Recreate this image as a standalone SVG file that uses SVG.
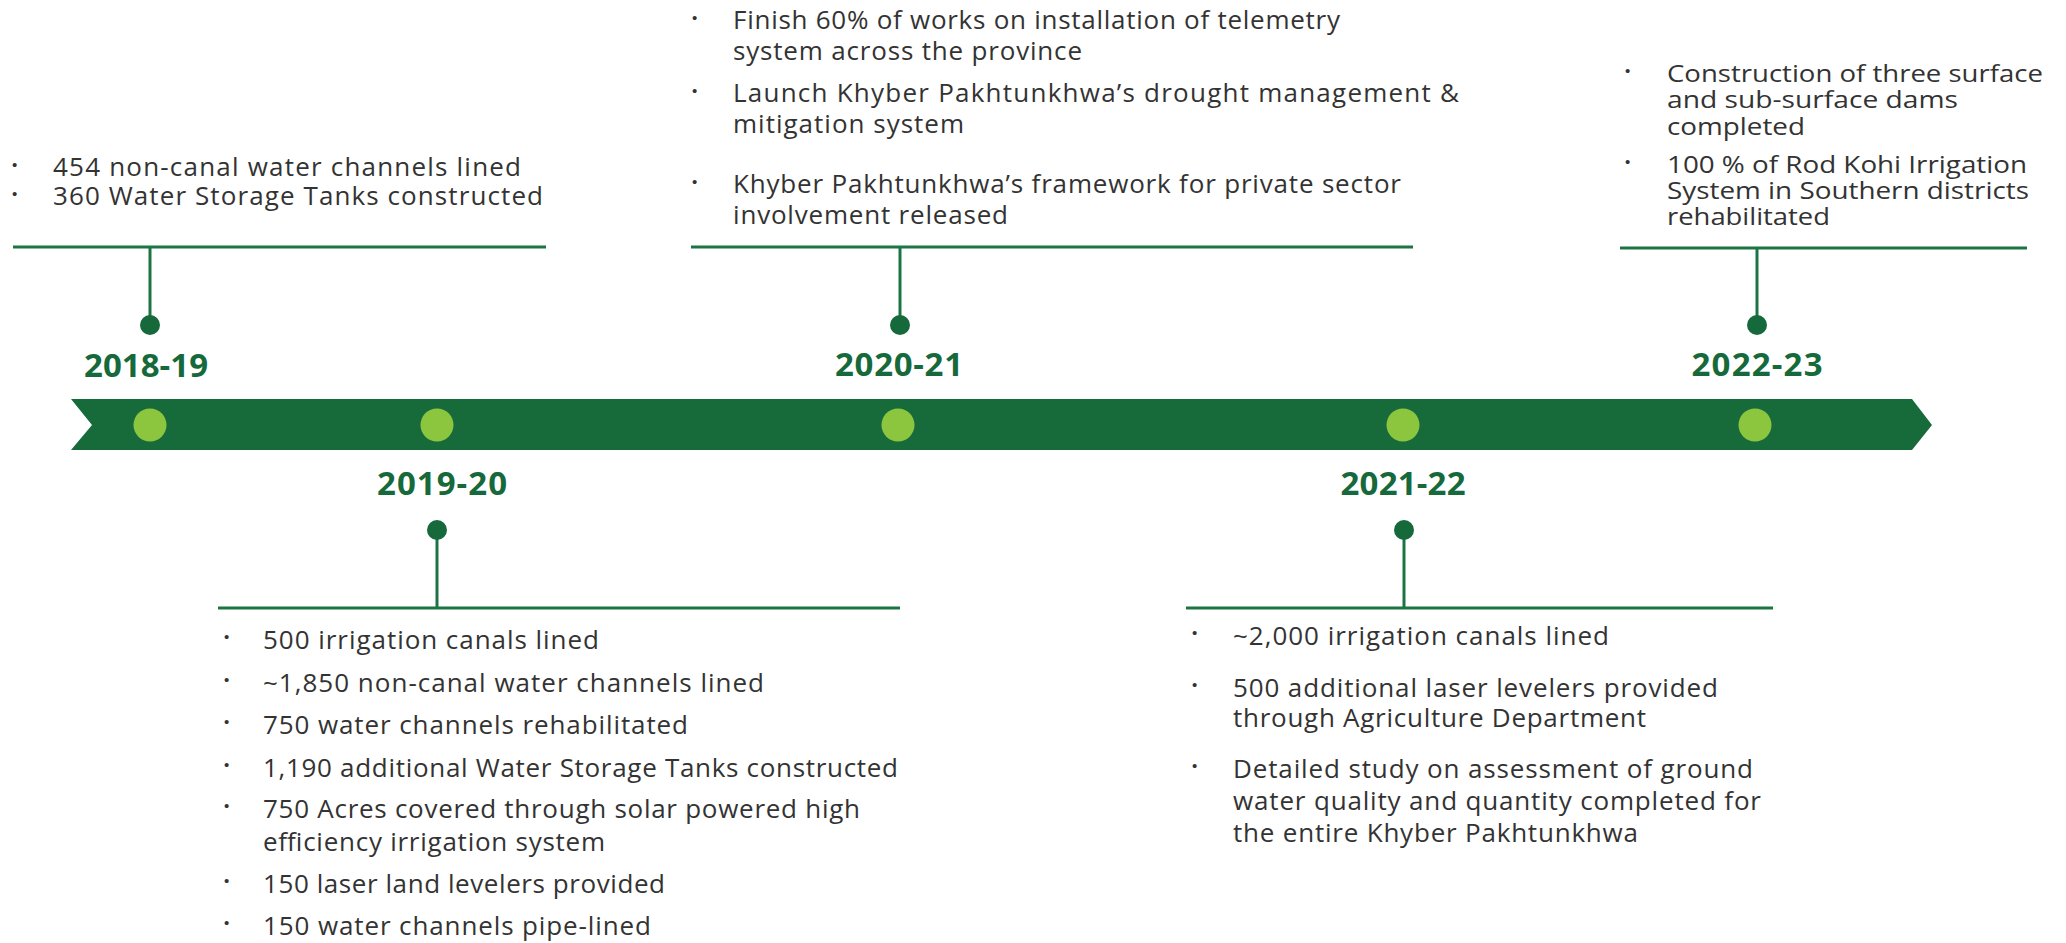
<svg xmlns="http://www.w3.org/2000/svg" width="2066" height="943" viewBox="0 0 2066 943">
<style>
.t{font-family:"Open Sans","Liberation Sans",sans-serif;font-size:26px;fill:#333333}
.s{font-size:23px}
.b{font-family:"Liberation Sans",sans-serif;font-size:15px;fill:#333333}
.y{font-family:"Open Sans","Liberation Sans",sans-serif;font-size:33px;font-weight:700;fill:#16693a;text-anchor:middle}
.ln{stroke:#1d7443;stroke-width:3;fill:none}
.pin{fill:#16693a}
.ld{fill:#8cc63e}
</style>
<rect width="2066" height="943" fill="#ffffff"/>
<g id="timeline">
<polygon points="71,399 1912,399 1932,425 1912,450 71,450 92,425" fill="#176b3b"/>
<circle class="ld" cx="150" cy="425" r="16.5"/>
<circle class="ld" cx="437" cy="425" r="16.5"/>
<circle class="ld" cx="898" cy="425" r="16.5"/>
<circle class="ld" cx="1403" cy="425" r="16.5"/>
<circle class="ld" cx="1755" cy="425" r="16.5"/>
</g>
<g id="connectors">
<line class="ln" x1="13" y1="247" x2="546" y2="247"/>
<line class="ln" x1="150" y1="247" x2="150" y2="325"/>
<line class="ln" x1="691" y1="247" x2="1413" y2="247"/>
<line class="ln" x1="900" y1="247" x2="900" y2="325"/>
<line class="ln" x1="1620" y1="248" x2="2027" y2="248"/>
<line class="ln" x1="1757" y1="248" x2="1757" y2="325"/>
<line class="ln" x1="218" y1="608" x2="900" y2="608"/>
<line class="ln" x1="437" y1="530" x2="437" y2="608"/>
<line class="ln" x1="1186" y1="608" x2="1773" y2="608"/>
<line class="ln" x1="1404" y1="530" x2="1404" y2="608"/>
</g>
<g id="y2018">
<circle class="pin" cx="150" cy="325" r="10"/>
<text class="y" x="146" y="377" textLength="124">2018-19</text>
<text class="b" x="12" y="170">•</text>
<text class="t" x="53" y="176" textLength="468">454 non-canal water channels lined</text>
<text class="b" x="12" y="199">•</text>
<text class="t" x="53" y="205" textLength="490">360 Water Storage Tanks constructed</text>
</g>
<g id="y2019">
<circle class="pin" cx="437" cy="530" r="10"/>
<text class="y" x="442" y="495" textLength="130">2019-20</text>
<text class="b" x="224" y="642">•</text>
<text class="t" x="263" y="649" textLength="336">500 irrigation canals lined</text>
<text class="b" x="224" y="685">•</text>
<text class="t" x="263" y="692" textLength="501">~1,850 non-canal water channels lined</text>
<text class="b" x="224" y="727">•</text>
<text class="t" x="263" y="734" textLength="425">750 water channels rehabilitated</text>
<text class="b" x="224" y="770">•</text>
<text class="t" x="263" y="777" textLength="635">1,190 additional Water Storage Tanks constructed</text>
<text class="b" x="224" y="811">•</text>
<text class="t" x="263" y="818" textLength="597">750 Acres covered through solar powered high</text>
<text class="t" x="263" y="851" textLength="342">efficiency irrigation system</text>
<text class="b" x="224" y="886">•</text>
<text class="t" x="263" y="893" textLength="402">150 laser land levelers provided</text>
<text class="b" x="224" y="928">•</text>
<text class="t" x="263" y="935" textLength="388">150 water channels pipe-lined</text>
</g>
<g id="y2020">
<circle class="pin" cx="900" cy="325" r="10"/>
<text class="y" x="899" y="376" textLength="128">2020-21</text>
<text class="b" x="692" y="23">•</text>
<text class="t" x="733" y="29" textLength="607">Finish 60% of works on installation of telemetry</text>
<text class="t" x="733" y="60" textLength="349">system across the province</text>
<text class="b" x="692" y="96">•</text>
<text class="t" x="733" y="102" textLength="726">Launch Khyber Pakhtunkhwa’s drought management &amp;</text>
<text class="t" x="733" y="133" textLength="231">mitigation system</text>
<text class="b" x="692" y="187">•</text>
<text class="t" x="733" y="193" textLength="668">Khyber Pakhtunkhwa’s framework for private sector</text>
<text class="t" x="733" y="224" textLength="275">involvement released</text>
</g>
<g id="y2021">
<circle class="pin" cx="1404" cy="530" r="10"/>
<text class="y" x="1403" y="495" textLength="125">2021-22</text>
<text class="b" x="1192" y="638">•</text>
<text class="t" x="1233" y="645" textLength="376">~2,000 irrigation canals lined</text>
<text class="b" x="1192" y="690">•</text>
<text class="t" x="1233" y="697" textLength="485">500 additional laser levelers provided</text>
<text class="t" x="1233" y="727" textLength="413">through Agriculture Department</text>
<text class="b" x="1192" y="771">•</text>
<text class="t" x="1233" y="778" textLength="520">Detailed study on assessment of ground</text>
<text class="t" x="1233" y="810" textLength="528">water quality and quantity completed for</text>
<text class="t" x="1233" y="842" textLength="405">the entire Khyber Pakhtunkhwa</text>
</g>
<g id="y2022">
<circle class="pin" cx="1757" cy="325" r="10"/>
<text class="y" x="1757" y="376" textLength="131">2022-23</text>
<text class="b" x="1625" y="76">•</text>
<text class="t s" x="1667" y="82" textLength="376" lengthAdjust="spacingAndGlyphs">Construction of three surface</text>
<text class="t s" x="1667" y="108" textLength="291" lengthAdjust="spacingAndGlyphs">and sub-surface dams</text>
<text class="t s" x="1667" y="135" textLength="138" lengthAdjust="spacingAndGlyphs">completed</text>
<text class="b" x="1625" y="167">•</text>
<text class="t s" x="1667" y="173" textLength="360" lengthAdjust="spacingAndGlyphs">100 % of Rod Kohi Irrigation</text>
<text class="t s" x="1667" y="199" textLength="362" lengthAdjust="spacingAndGlyphs">System in Southern districts</text>
<text class="t s" x="1667" y="225" textLength="163" lengthAdjust="spacingAndGlyphs">rehabilitated</text>
</g>
</svg>
